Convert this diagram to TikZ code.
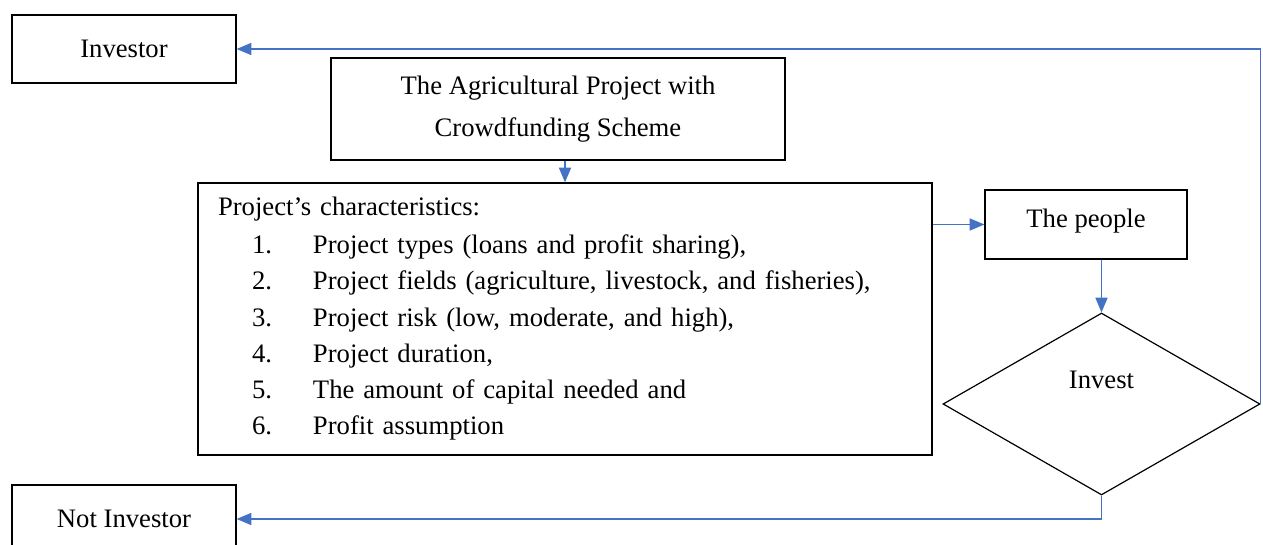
\documentclass[tikz,border=0pt]{standalone}
\usepackage{fontspec}
\setmainfont{Liberation Serif}
\usetikzlibrary{shapes.geometric,arrows.meta}
\definecolor{flowblue}{RGB}{68,114,196}
\tikzset{
  box/.style={draw, line width=0.9pt, rectangle, inner sep=0pt, font=\fontsize{20}{32}\selectfont},
  decide/.style={draw, line width=0.9pt, diamond, inner sep=0pt, font=\fontsize{20}{32}\selectfont},
  flow/.style={draw=flowblue, line width=1.1pt, -{Triangle[length=11pt,width=9pt]}}
}
\newcommand{\itemline}[2]{\hspace*{25.5pt}\makebox[45.75pt][l]{#1}#2}
\begin{document}
\begin{tikzpicture}[x=0.75pt, y=-0.75pt]
  \useasboundingbox (0,0) rectangle (1263,545);

  \node[box, minimum width=168pt, minimum height=51pt] (investor) at (124,49) {Investor};
  \node[box, minimum width=168pt, minimum height=51pt] (notinvestor) at (124,519) {Not Investor};
  \node[box, minimum width=340.5pt, minimum height=76.5pt, align=center] (project) at (558,109)
    {The Agricultural Project with\\Crowdfunding Scheme};
  \node[box, minimum height=204pt, inner xsep=15pt, inner ysep=6pt, text width=520.5pt, align=left,
        font=\fontsize{20}{27.2}\selectfont] (chars) at (565,319)
    {Project’s characteristics:\\[1pt]
     \itemline{1.}{Project types (loans and profit sharing),}\\
     \itemline{2.}{Project fields (agriculture, livestock, and fisheries),}\\
     \itemline{3.}{Project risk (low, moderate, and high),}\\
     \itemline{4.}{Project duration,}\\
     \itemline{5.}{The amount of capital needed and}\\
     \itemline{6.}{Profit assumption}};
  \node[box, minimum width=151.5pt, minimum height=51.75pt, text depth=9pt] (people) at (1086,224.5) {The people};
  \node[decide, minimum width=237.75pt, minimum height=136.5pt, shape aspect=1.74, text depth=36pt] (invest) at (1101.5,404) {Invest};

  % connectors
  \draw[flow] (chars.north |- project.south) -- (chars.north);
  \draw[flow] (people.west -| chars.east) -- (people.west);
  \draw[flow] (invest.north |- people.south) -- (invest.north);
  \draw[flow] (invest.east) |- (investor.east);
  \draw[flow] (invest.south) |- (notinvestor.east);
\end{tikzpicture}
\end{document}
